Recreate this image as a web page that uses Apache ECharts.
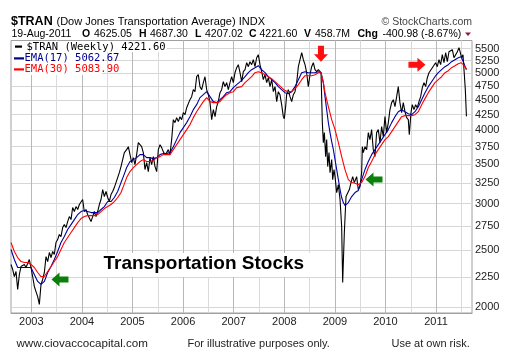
<!DOCTYPE html>
<html><head><meta charset="utf-8">
<script src="https://cdn.jsdelivr.net/npm/echarts@6/dist/echarts.min.js"></script>
<style>html,body{margin:0;padding:0;background:#fff}#c{width:507px;height:360px}</style>
</head><body><div id="c"></div>
<script>
// ---- tick labels ----
const yTicks = [2000,2250,2500,2750,3000,3250,3500,3750,4000,4250,4500,4750,5000,5250,5500];
const yearTicks = [2003,2004,2005,2006,2007,2008,2009,2010,2011];
const halfYearTicks = [2003.5,2004.5,2005.5,2006.5,2007.5,2008.5,2009.5,2010.5,2011.5];
const yRange = [1957, 5680];
const xRange = [2002.599, 2011.71];

// ---- weekly close ($TRAN), [decimal year, value] ----
const tran = [
[2002.599,2366],[2002.632,2320],[2002.665,2257],[2002.698,2302],[2002.731,2146],[2002.764,2275],[2002.797,2347],[2002.830,2338],[2002.863,2366],[2002.895,2338],[2002.928,2347],[2002.961,2412],[2002.994,2338],[2003.027,2257],[2003.060,2171],[2003.093,2128],[2003.126,2087],[2003.159,2024],[2003.192,2188],[2003.225,2231],[2003.258,2293],[2003.291,2440],[2003.324,2393],[2003.357,2479],[2003.390,2431],[2003.423,2489],[2003.455,2460],[2003.488,2578],[2003.521,2608],[2003.554,2660],[2003.587,2639],[2003.620,2733],[2003.653,2765],[2003.686,2733],[2003.719,2798],[2003.752,2853],[2003.785,2820],[2003.818,2956],[2003.851,2910],[2003.884,2967],[2003.917,2933],[2003.950,2991],[2003.982,3014],[2004.015,3050],[2004.048,2910],[2004.081,2933],[2004.114,2876],[2004.147,2898],[2004.180,2798],[2004.213,2853],[2004.246,2910],[2004.279,2853],[2004.312,2910],[2004.345,2991],[2004.378,3050],[2004.411,3171],[2004.444,3086],[2004.477,3147],[2004.510,3074],[2004.542,3026],[2004.575,3110],[2004.608,3147],[2004.641,3196],[2004.674,3259],[2004.707,3271],[2004.740,3388],[2004.773,3469],[2004.806,3565],[2004.839,3664],
[2004.885,3707],[2004.918,3750],[2004.951,3635],[2004.984,3524],[2005.017,3593],[2005.049,3497],[2005.082,3635],[2005.115,3809],[2005.148,3824],[2005.181,3750],[2005.214,3664],[2005.247,3429],[2005.280,3524],[2005.313,3402],[2005.346,3593],[2005.379,3497],[2005.412,3607],[2005.445,3469],[2005.478,3402],[2005.511,3707],[2005.544,3780],[2005.577,3736],[2005.609,3678],[2005.642,3635],[2005.675,3664],[2005.708,3707],[2005.741,3635],[2005.774,3855],[2005.807,4168],[2005.840,4120],[2005.873,4201],[2005.906,4136],[2005.939,4217],[2005.972,4168],[2006.005,4284],[2006.038,4250],[2006.071,4368],[2006.104,4385],[2006.136,4507],[2006.169,4560],[2006.202,4687],[2006.235,4650],[2006.268,4930],[2006.301,4969],[2006.334,4742],[2006.367,4687],[2006.400,4817],[2006.433,4930],[2006.466,4687],[2006.499,4596],[2006.532,4455],[2006.565,4168],[2006.598,4334],[2006.631,4217],[2006.664,4385],[2006.696,4472],[2006.729,4632],[2006.762,4687],[2006.795,4835],[2006.828,4742],[2006.861,4817],[2006.894,4687],[2006.927,4817],[2006.960,4930],[2006.993,4817],[2007.026,5008],[2007.059,5107],[2007.092,5168],
[2007.125,5008],[2007.158,4835],[2007.191,5028],[2007.224,5068],[2007.257,5208],[2007.290,5127],[2007.322,5228],[2007.355,5168],[2007.388,5269],[2007.421,5127],[2007.454,5310],[2007.487,5373],[2007.520,5168],[2007.553,5028],[2007.586,4873],[2007.619,4969],[2007.652,4817],[2007.685,4911],[2007.718,4742],[2007.751,4873],[2007.784,4650],[2007.817,4742],[2007.850,4472],[2007.882,4650],[2007.915,4596],[2007.948,4420],[2007.981,4217],[2008.001,4184],[2008.027,4385],[2008.047,4596],[2008.080,4687],[2008.113,4560],[2008.146,4472],[2008.179,4596],[2008.212,4650],[2008.245,4817],[2008.278,5127],[2008.311,5269],[2008.344,5415],[2008.377,5269],[2008.410,5168],[2008.442,5008],[2008.475,4742],[2008.508,4969],[2008.541,5127],[2008.574,5208],[2008.607,5068],[2008.640,5028],[2008.673,5068],[2008.706,5107],[2008.726,5008],
[2008.752,4120],[2008.772,3809],[2008.792,3962],[2008.818,3607],[2008.838,3855],[2008.858,3469],[2008.884,3664],[2008.904,3388],[2008.937,3565],[2008.957,3297],[2008.983,3429],[2009.003,3336],[2009.036,3134],[2009.069,3233],[2009.102,3050],[2009.134,2744],[2009.154,2205],[2009.187,2681],[2009.220,3086],[2009.253,3086],[2009.286,3171],[2009.319,3259],[2009.352,3336],[2009.385,3259],
[2009.430,3336],[2009.463,3171],[2009.496,3208],[2009.529,3388],[2009.542,3750],[2009.562,3664],[2009.595,3750],[2009.628,3707],[2009.661,3962],[2009.693,3855],[2009.726,4009],[2009.759,3707],[2009.792,3607],[2009.825,3962],[2009.858,4009],[2009.891,3809],[2009.924,4056],[2009.957,3900],[2009.990,4217],[2010.023,3962],[2010.056,4120],[2010.089,4334],[2010.122,4455],[2010.155,4507],[2010.188,4385],[2010.221,4560],[2010.253,4742],[2010.286,4455],[2010.319,4284],[2010.352,4455],[2010.385,4300],[2010.418,4201],[2010.451,4168],[2010.471,3931],[2010.504,4284],[2010.530,4420],[2010.563,4334],[2010.596,4420],[2010.629,4368],[2010.662,4472],[2010.695,4560],[2010.728,4724],[2010.761,4817],[2010.794,4742],[2010.827,4911],[2010.860,5008],[2010.893,5028],[2010.926,5107],[2010.959,5068],[2010.991,5208],[2011.024,5127],[2011.057,5269],[2011.090,5168],[2011.123,5373],[2011.156,5208],[2011.189,5415],[2011.222,5228],[2011.255,5436],[2011.288,5415],[2011.321,5479],[2011.354,5310],[2011.387,5331],[2011.420,5436],[2011.453,5522],[2011.479,5543],[2011.505,5310],[2011.532,5373],[2011.556,5008],[2011.578,4687],[2011.600,4221.6]
];

// ---- EMA(17) ----
const ema17 = [
[2002.599,2509],[2002.665,2412],[2002.731,2338],[2002.797,2338],[2002.863,2338],[2002.928,2338],[2002.994,2338],[2003.060,2275],[2003.126,2214],[2003.192,2188],[2003.258,2214],[2003.324,2293],[2003.390,2347],[2003.455,2412],[2003.521,2489],[2003.587,2578],[2003.653,2639],[2003.719,2712],[2003.785,2765],[2003.851,2820],[2003.917,2876],[2003.982,2910],[2004.048,2921],[2004.114,2910],[2004.180,2898],[2004.246,2898],[2004.312,2898],[2004.378,2933],[2004.444,2967],[2004.510,3026],[2004.575,3026],[2004.641,3074],[2004.707,3147],[2004.773,3259],[2004.819,3336],[2004.885,3456],[2004.951,3538],[2005.017,3565],[2005.082,3593],[2005.148,3635],[2005.214,3635],[2005.280,3593],[2005.346,3593],[2005.412,3579],[2005.478,3593],[2005.544,3635],[2005.609,3650],[2005.675,3650],[2005.741,3664],[2005.807,3750],[2005.873,3855],[2005.939,3962],[2006.005,4040],[2006.071,4120],[2006.136,4217],[2006.202,4334],[2006.268,4420],[2006.334,4543],[2006.400,4596],[2006.466,4650],[2006.532,4560],[2006.598,4472],[2006.664,4455],[2006.729,4507],[2006.795,4560],[2006.861,4632],[2006.927,4650],[2006.993,4724],[2007.059,4780],[2007.158,4860],[2007.224,4930],[2007.290,5008],[2007.355,5068],[2007.421,5107],[2007.487,5147],[2007.553,5068],[2007.619,5008],[2007.685,4930],[2007.751,4873],[2007.817,4817],[2007.882,4742],[2007.948,4687],[2008.014,4632],[2008.080,4614],[2008.146,4650],[2008.212,4742],[2008.278,4873],[2008.344,5008],[2008.410,5028],[2008.475,5008],[2008.541,5008],[2008.607,5008],[2008.673,5028],[2008.726,5008],[2008.772,4817],[2008.805,4560],[2008.838,4334],[2008.871,4120],[2008.904,3962],[2008.937,3824],[2008.970,3707],[2009.003,3565],[2009.036,3429],[2009.069,3297],[2009.102,3171],[2009.134,3074],[2009.167,3014],[2009.200,2979],[2009.266,3014],[2009.332,3086],[2009.398,3134],[2009.463,3159],[2009.529,3297],[2009.595,3429],[2009.661,3538],[2009.726,3635],[2009.792,3707],[2009.858,3780],[2009.924,3855],[2009.990,3931],[2010.056,4009],[2010.122,4120],[2010.188,4217],[2010.253,4300],[2010.319,4334],[2010.385,4300],[2010.451,4267],[2010.517,4250],[2010.583,4300],[2010.649,4385],[2010.715,4507],[2010.781,4632],[2010.846,4742],[2010.912,4835],[2010.978,4930],[2011.044,5008],[2011.110,5068],[2011.176,5127],[2011.241,5168],[2011.307,5228],[2011.373,5269],[2011.439,5310],[2011.492,5331],[2011.538,5228],[2011.600,5062.67]
];

// ---- EMA(30) ----
const ema30 = [
[2002.599,2578],[2002.665,2489],[2002.731,2431],[2002.797,2393],[2002.863,2384],[2002.928,2384],[2002.994,2366],[2003.060,2338],[2003.126,2293],[2003.192,2257],[2003.258,2257],[2003.324,2302],[2003.390,2347],[2003.455,2393],[2003.521,2440],[2003.587,2509],[2003.653,2578],[2003.719,2629],[2003.785,2681],[2003.851,2733],[2003.917,2787],[2003.982,2831],[2004.048,2853],[2004.114,2864],[2004.180,2864],[2004.246,2864],[2004.312,2876],[2004.378,2910],[2004.444,2944],[2004.510,2967],[2004.575,2991],[2004.641,3026],[2004.707,3074],[2004.773,3134],[2004.819,3208],[2004.885,3323],[2004.951,3402],[2005.017,3456],[2005.082,3497],[2005.148,3538],[2005.214,3565],[2005.280,3538],[2005.346,3538],[2005.412,3551],[2005.478,3593],[2005.544,3607],[2005.609,3635],[2005.675,3635],[2005.741,3635],[2005.807,3707],[2005.873,3780],[2005.939,3855],[2006.005,3931],[2006.071,4009],[2006.136,4088],[2006.202,4201],[2006.268,4300],[2006.334,4385],[2006.400,4472],[2006.466,4543],[2006.532,4472],[2006.598,4455],[2006.664,4455],[2006.729,4472],[2006.795,4543],[2006.861,4596],[2006.927,4632],[2006.993,4650],[2007.059,4724],[2007.158,4742],[2007.224,4817],[2007.290,4873],[2007.355,4930],[2007.421,5008],[2007.487,5028],[2007.553,5008],[2007.619,4969],[2007.685,4930],[2007.751,4892],[2007.817,4835],[2007.882,4779],[2007.948,4724],[2008.014,4669],[2008.080,4650],[2008.146,4650],[2008.212,4705],[2008.278,4779],[2008.344,4873],[2008.410,4950],[2008.475,4950],[2008.541,4950],[2008.607,4969],[2008.673,5008],[2008.726,5008],[2008.772,4817],[2008.805,4632],[2008.871,4385],[2008.937,4168],[2009.003,4009],[2009.069,3809],[2009.134,3607],[2009.200,3429],[2009.266,3297],[2009.332,3259],[2009.398,3250],[2009.463,3233],[2009.529,3259],[2009.595,3336],[2009.661,3456],[2009.726,3538],[2009.792,3635],[2009.858,3707],[2009.924,3780],[2009.990,3855],[2010.056,3900],[2010.122,3977],[2010.188,4056],[2010.253,4136],[2010.319,4217],[2010.385,4234],[2010.451,4234],[2010.517,4234],[2010.583,4250],[2010.649,4300],[2010.715,4420],[2010.781,4525],[2010.846,4632],[2010.912,4724],[2010.978,4817],[2011.044,4873],[2011.110,4930],[2011.176,5008],[2011.241,5048],[2011.307,5107],[2011.373,5147],[2011.439,5188],[2011.492,5208],[2011.538,5168],[2011.600,5083.9]
];

// ---- annotation arrows: [year, value, direction, colour] ----
const arrowsAt = [
  [2008.725, 5394, 'down',  '#ff1010'],
  [2010.622, 5168, 'right', '#ff1010'],
  [2003.567, 2231, 'left',  '#0a800a'],
  [2009.773, 3297, 'left',  '#0a800a']
];

const toLog = d => [d[0], Math.log(d[1])];
const arrowPath = 'path://M0,4 L9,4 L9,0 L17,7 L9,14 L9,10 L0,10 Z';
const rot = {right: 0, left: 180, down: -90, up: 90};
const FONT = 'Liberation Sans, Arial, sans-serif';
const MONO = 'DejaVu Sans Mono, monospace';

const chart = echarts.init(document.getElementById('c'), null, {renderer: 'canvas'});

function txt(x, y, text, opt) {
  opt = opt || {};
  return {type: 'text', x: x, y: y, z: 20, silent: true,
    style: {text: text, fill: opt.fill || '#000', font: (opt.bold ? 'bold ' : '') + (opt.size || 11) + 'px ' + (opt.family || FONT),
      align: opt.align || 'left', verticalAlign: 'middle'}};
}

const graphics = [
  txt(11, 21.3, '$TRAN', {bold: true, size: 12.5}),
  txt(56.5, 21.8, '(Dow Jones Transportation Average) INDX', {size: 11}),
  txt(381.5, 21.8, '\u00a9 StockCharts.com', {size: 10.5, fill: '#444'}),
  txt(11.5, 34, '19-Aug-2011', {size: 10.5}),
  txt(82, 34, 'O', {bold: true, size: 10.5}), txt(94, 34, '4625.05', {size: 10.5}),
  txt(139, 34, 'H', {bold: true, size: 10.5}), txt(150, 34, '4687.30', {size: 10.5}),
  txt(195, 34, 'L', {bold: true, size: 10.5}), txt(205, 34, '4207.02', {size: 10.5}),
  txt(249, 34, 'C', {bold: true, size: 10.5}), txt(259.5, 34, '4221.60', {size: 10.5}),
  txt(304, 34, 'V', {bold: true, size: 10.5}), txt(315, 34, '458.7M', {size: 10.5}),
  txt(357.5, 34, 'Chg', {bold: true, size: 10.5}), txt(382.5, 34, '-400.98 (-8.67%)', {size: 10.5}),
  {type: 'polygon', z: 20, silent: true, shape: {points: [[465, 32.5], [471, 32.5], [468, 36]]}, style: {fill: '#8b1c3c'}},
  // legend box
  {type: 'rect', z: 15, silent: true, shape: {x: 12, y: 41, width: 155, height: 11}, style: {fill: '#fff'}},
  {type: 'rect', z: 15, silent: true, shape: {x: 12, y: 52, width: 90, height: 23}, style: {fill: '#fff'}},
  {type: 'rect', z: 20, silent: true, shape: {x: 15, y: 45.5, width: 7, height: 2.2}, style: {fill: '#000'}},
  {type: 'rect', z: 20, silent: true, shape: {x: 14, y: 57.3, width: 10, height: 2.2}, style: {fill: '#00008b'}},
  {type: 'rect', z: 20, silent: true, shape: {x: 14, y: 68.3, width: 10, height: 2.2}, style: {fill: '#ff0000'}},
  txt(26.5, 46.8, '$TRAN (Weekly) 4221.60', {size: 10.5, family: MONO}),
  txt(24.5, 58.4, 'EMA(17) 5062.67', {size: 10.5, family: MONO, fill: '#00008b'}),
  txt(24.5, 69.4, 'EMA(30) 5083.90', {size: 10.5, family: MONO, fill: '#ff0000'}),
  // caption
  {type: 'rect', z: 15, silent: true, shape: {x: 100, y: 253, width: 211, height: 24}, style: {fill: '#fff'}},
  txt(103.5, 263.5, 'Transportation Stocks', {bold: true, size: 19}),
  // footer
  txt(16.5, 343.5, 'www.ciovaccocapital.com', {size: 11.6, fill: '#222'}),
  txt(187.5, 343.5, 'For illustrative purposes only.', {size: 11, fill: '#222'}),
  txt(391.5, 343.5, 'Use at own risk.', {size: 11, fill: '#222'})
];

const option = {
  animation: false,
  backgroundColor: '#fff',
  grid: {left: 11, right: 35, top: 40.5, bottom: 47, show: true, borderColor: '#a0a0a0', borderWidth: 1, backgroundColor: 'transparent'},
  xAxis: [
    {type: 'value', min: xRange[0], max: xRange[1],
     axisLine: {show: true, onZero: false, lineStyle: {color: '#a0a0a0'}},
     axisTick: {show: false, customValues: yearTicks},
     axisLabel: {customValues: yearTicks, formatter: v => String(Math.round(v)), color: '#222', fontSize: 11, fontFamily: FONT, margin: 3},
     splitLine: {show: true, lineStyle: {color: '#b8b8b8', width: 1}}},
    {type: 'value', min: xRange[0], max: xRange[1], position: 'bottom',
     axisLine: {show: false}, axisLabel: {show: false},
     axisTick: {show: false, customValues: halfYearTicks},
     splitLine: {show: true, lineStyle: {color: '#dadada', width: 1}}}
  ],
  yAxis: {type: 'value', position: 'right', min: Math.log(yRange[0]), max: Math.log(yRange[1]),
    axisLine: {show: false},
    axisTick: {show: false, customValues: yTicks.map(Math.log)},
    axisLabel: {customValues: yTicks.map(Math.log), formatter: v => String(Math.round(Math.exp(v))), color: '#222', fontSize: 11, fontFamily: FONT, margin: 3},
    splitLine: {show: true, lineStyle: {color: '#d6d6d6', width: 1}}},
  series: [
    {name: '$TRAN', type: 'line', data: tran.map(toLog), showSymbol: false, symbol: 'none', lineStyle: {color: '#000', width: 1.1}, z: 3,
     markPoint: {silent: true, animation: false, label: {show: false},
       data: arrowsAt.map(a => ({coord: [a[0], Math.log(a[1])], symbol: arrowPath,
         symbolSize: a[2] === 'down' ? [16, 14] : [17, 14], symbolRotate: rot[a[2]], itemStyle: {color: a[3]}}))}},
    {name: 'EMA(17)', type: 'line', data: ema17.map(toLog), showSymbol: false, symbol: 'none', lineStyle: {color: '#0000a0', width: 1.1}, z: 4},
    {name: 'EMA(30)', type: 'line', data: ema30.map(toLog), showSymbol: false, symbol: 'none', lineStyle: {color: '#ff0000', width: 1.1}, z: 5}
  ],
  graphic: graphics
};
chart.setOption(option);
</script></body></html>
